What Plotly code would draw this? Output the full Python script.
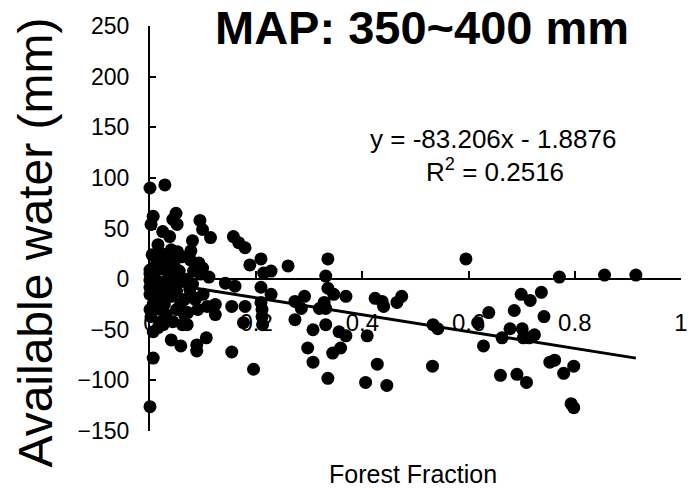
import plotly.graph_objects as go

# Forest fraction (x) and available water in mm (y)
forest_fraction = [
    0.0, 0.028, 0.006, 0.002, 0.049, 0.043, 0.051, 0.024, 0.037, 0.094, 0.099, 0.114, 0.080, 0.077,
    0.015, 0.004, 0.040, 0.052, 0.037, 0.015, 0.076, 0.092, 0.099, 0.157, 0.167, 0.179, 0.188, 0.111,
    0.142, 0.160, 0.0, 0.0,
    0.209, 0.228, 0.214, 0.260, 0.335, 0.331, 0.209, 0.228, 0.209, 0.211, 0.211, 0.212, 0.273, 0.291,
    0.285, 0.273, 0.335, 0.346, 0.369, 0.328, 0.319, 0.331, 0.331, 0.307, 0.356, 0.369, 0.409, 0.297,
    0.359, 0.344, 0.307, 0.428, 0.335, 0.406, 0.446, 0.424, 0.437, 0.440, 0.465, 0.474, 0.533, 0.542,
    0.532, 0.195, 0.595,
    0.771, 0.856, 0.915, 0.699, 0.716, 0.737, 0.686, 0.638, 0.617, 0.742, 0.678, 0.701, 0.663, 0.703,
    0.724, 0.714, 0.628, 0.753, 0.762, 0.798, 0.779, 0.660, 0.691, 0.709, 0.793, 0.798,
    0.040, 0.027, 0.058, 0.086, 0.108, 0.123, 0.123, 0.154, 0.179, 0.176, 0.002, 0.006, 0.043, 0.061,
    0.071, 0.021, 0.040, 0.058, 0.088, 0.088, 0.106, 0.154, 0.006, 0.0, 0.0, 0.006,
    0.0, 0.005, 0.01, 0.015, 0.02, 0.025, 0.03, 0.035, 0.04, 0.045, 0.05, 0.055, 0.06, 0.065, 0.07,
    0.075, 0.01, 0.02, 0.03, 0.0, 0.012, 0.022, 0.045, 0.06, 0.03, 0.05, 0.065, 0.08, 0.085, 0.09,
    0.1, 0.095, 0.0, 0.008, 0.025, 0.015, 0.07, 0.082,
]
available_water = [
    90, 93, 62, 54, 65, 59, 54, 47, 42, 58, 49, 41, 38, 28,
    34, 24, 29, 27, 21, 19, 19, 16, 11, 42, 36, 31, 14, 2,
    -4, -7, 9, -1,
    20, 8, 6, 13, 20, 3, -8, -15, -23, -30, -37, -45, -22, -17,
    -29, -40, -9, -15, -17, -23, -29, -29, -45, -50, -52, -56, -56, -68,
    -68, -73, -82, -84, -98, -102, -105, -19, -22, -27, -23, -17, -45, -49,
    -86, -89, 20,
    2, 4, 4, -15, -21, -13, -31, -33, -43, -37, -49, -49, -58, -58,
    -55, -58, -66, -82, -80, -86, -93, -95, -94, -102, -123, -127,
    -17, -25, -24, -19, -27, -25, -35, -27, -27, -43, -37, -52, -42, -45,
    -33, -42, -60, -66, -65, -71, -58, -72, -78, -126, -15, -25,
    5, -5, 0, -10, 10, -3, 15, 5, -8, 2, -12, 8, -2, -20, 0,
    -10, -20, -30, -35, -30, 20, 25, 15, 22, -15, -30, -35, -5, -20, -30,
    -15, 5, -8, 12, -45, -48, -45, 8,
]

x_ticks = [0, 0.2, 0.4, 0.6, 0.8, 1]
x_tick_text = ["0", "0.2", "0.4", "0.6", "0.8", "1"]
y_ticks = [-150, -100, -50, 0, 50, 100, 150, 200, 250]

slope = -83.206
intercept = -1.8876
r_squared = 0.2516

FONT = "Liberation Sans, Arial, sans-serif"

fig = go.Figure()
fig.add_trace(go.Scatter(
    x=forest_fraction, y=available_water, mode="markers",
    marker=dict(size=13, color="black"), cliponaxis=False, hoverinfo="skip"))

x_line = [min(forest_fraction), max(forest_fraction)]
y_line = [slope * v + intercept for v in x_line]
fig.add_trace(go.Scatter(x=x_line, y=y_line, mode="lines",
                         line=dict(color="black", width=3), hoverinfo="skip"))

fig.update_layout(
    width=700, height=488,
    margin=dict(l=150, r=12, t=26, b=57),
    paper_bgcolor="white", plot_bgcolor="white",
    showlegend=False,
    font=dict(family=FONT, color="black"),
    xaxis=dict(range=[0, 1], tickvals=x_ticks, ticktext=x_tick_text,
               showgrid=False, zeroline=False, showline=True, linecolor="black", linewidth=2,
               ticks="inside", ticklen=7, tickwidth=2, tickcolor="black",
               ticklabelstandoff=22,
               anchor="free", position=0.375, tickfont=dict(size=24, family=FONT, color="black")),
    yaxis=dict(range=[-150, 250], tickvals=y_ticks,
               showgrid=False, zeroline=False, showline=True, linecolor="black", linewidth=2,
               ticks="inside", ticklen=6, tickwidth=2, tickcolor="black",
               ticklabelstandoff=14,
               tickfont=dict(size=23, family=FONT, color="black")),
    annotations=[
        dict(text="MAP: 350~400 mm", xref="paper", yref="paper", x=0.512, y=0.997,
             showarrow=False, xanchor="center", yanchor="middle",
             font=dict(size=47, family=FONT, color="black", weight="bold")),
        dict(text="Available water (mm)", xref="paper", yref="paper", x=-0.215, y=0.465,
             showarrow=False, xanchor="center", yanchor="middle", textangle=-90,
             font=dict(size=48, family=FONT, color="black")),
        dict(text="Forest Fraction", xref="paper", yref="paper", x=0.496, y=-0.105,
             showarrow=False, xanchor="center", yanchor="middle",
             font=dict(size=25, family=FONT, color="black")),
        dict(text=f"y = {slope}x - {abs(intercept)}", xref="paper", yref="paper",
             x=(498 - 150) / 538, y=(431.4 - 139) / 405,
             showarrow=False, xanchor="center", yanchor="middle",
             font=dict(size=26, family=FONT, color="black")),
        dict(text=f"R<sup>2</sup> = {r_squared}", xref="paper", yref="paper",
             x=(500 - 150) / 538, y=(431.4 - 171) / 405,
             showarrow=False, xanchor="center", yanchor="middle",
             font=dict(size=26, family=FONT, color="black")),
    ],
)

fig.write_html("out.html")
